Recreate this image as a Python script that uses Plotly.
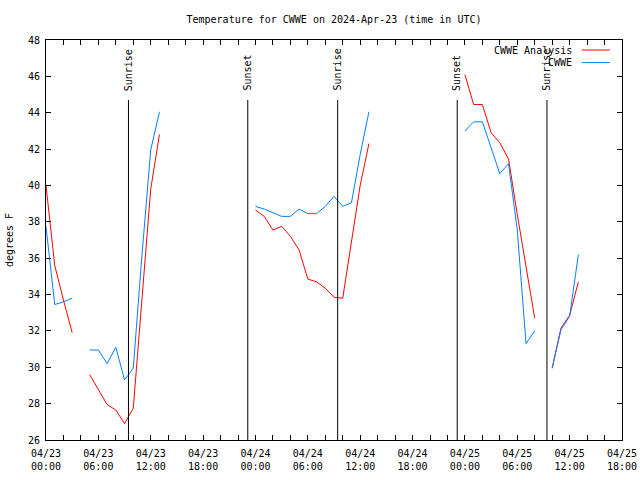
import pandas as pd
import plotly.graph_objects as go

# ---- data ----
base_time = "2024-04-23 00:00"
hours = [0, 1, 2, 3, 4, 5, 6, 7, 8, 9, 10, 11, 12, 13, 14,
         24, 25, 26, 27, 28, 29, 30, 31, 32, 33, 34, 35, 36, 37, 38,
         48, 49, 50, 51, 52, 53, 54, 55, 56, 57,
         58, 59, 60, 61]
analysis_temp = [40.0, 35.6, 33.7, 31.9, None, 29.6, 28.75, 27.95, 27.65, 26.9, 27.75, 33.85, 39.8, 42.8, None,
                 38.65, 38.3, 37.55, 37.75, 37.2, 36.45, 34.85, 34.7, 34.35, 33.85, 33.8, 36.9, 40.0, 42.3, None,
                 46.1, 44.45, 44.45, 42.9, 42.35, 41.45, 38.4, 35.5, 32.7, None,
                 29.95, 32.15, 32.85, 34.7]
obs_temp = [37.75, 33.45, 33.6, 33.8, None, 30.95, 30.95, 30.2, 31.1, 29.3, 29.95, 36.2, 41.95, 44.05, None,
            38.85, 38.7, 38.5, 38.3, 38.3, 38.7, 38.45, 38.45, 38.85, 39.4, 38.85, 39.05, 41.7, 44.05, None,
            43.0, 43.5, 43.5, 42.1, 40.65, 41.2, 37.55, 31.3, 32.0, None,
            29.95, 32.05, 32.8, 36.2]
sun_hours = [9.45, 23.12, 33.42, 47.12, 57.4]
sun_labels = ["Sunrise", "Sunset", "Sunrise", "Sunset", "Sunrise"]
series_names = ["CWWE Analysis", "CWWE"]
series_colors = ["#ff0000", "#0080ff"]
x_range_hours = [0, 66]
tick_hours = list(range(0, 67, 2))
y_range = [26, 48]

t0 = pd.Timestamp(base_time)
def to_time(h):
    return t0 + pd.Timedelta(hours=h)

times = [to_time(h) for h in hours]

FONT = "DejaVu Sans Mono"

fig = go.Figure()
for name, vals, col in zip(series_names, [analysis_temp, obs_temp], series_colors):
    fig.add_trace(go.Scatter(x=times, y=vals, mode="lines", name=name,
                             line=dict(color=col, width=1), connectgaps=False,
                             showlegend=False))

# sunrise / sunset markers
for h, lab in zip(sun_hours, sun_labels):
    t = to_time(h)
    fig.add_shape(type="line", xref="x", yref="paper", x0=t, x1=t, y0=0, y1=0.85,
                  line=dict(color="black", width=1))
    fig.add_annotation(x=t, xref="x", y=0.868, yref="paper", text=lab, textangle=-90,
                       showarrow=False, xanchor="center", yanchor="bottom",
                       font=dict(family=FONT, size=10, color="black"))

# manual legend (text left of line sample, like the reference)
for i, (name, col) in enumerate(zip(series_names, series_colors)):
    yy = 0.975 - i * 0.0315
    fig.add_annotation(x=0.917, xref="paper", y=yy, yref="paper", text=name,
                       showarrow=False, xanchor="right", yanchor="middle",
                       font=dict(family=FONT, size=10, color="black"))
    fig.add_shape(type="line", xref="paper", yref="paper", x0=0.930, x1=0.979,
                  y0=yy, y1=yy, line=dict(color=col, width=1))

tick_text = [(to_time(h).strftime("%m/%d<br>%H:%M") if h % 6 == 0 else "") for h in tick_hours]

fig.update_layout(
    width=640, height=480,
    margin=dict(l=46, r=18, t=40, b=40, autoexpand=False),
    paper_bgcolor="white", plot_bgcolor="white",
    font=dict(family=FONT, size=10, color="black"),
    title=dict(text="Temperature for CWWE on 2024-Apr-23 (time in UTC)", x=0.5, xref="paper",
               y=1 - 19 / 480, yanchor="middle", xanchor="center",
               font=dict(family=FONT, size=10, color="black")),
    showlegend=False,
)
fig.update_xaxes(type="date", range=[to_time(x_range_hours[0]), to_time(x_range_hours[1])],
                 tickmode="array", tickvals=[to_time(h) for h in tick_hours], ticktext=tick_text,
                 ticks="inside", ticklen=5, tickcolor="black", showgrid=False, zeroline=False,
                 showline=True, linecolor="black", linewidth=1, mirror="ticks", automargin=False,
                 ticklabelstandoff=4,
                 tickfont=dict(family=FONT, size=10, color="black"), tickangle=0)
fig.update_yaxes(range=y_range, tickmode="linear", tick0=26, dtick=2,
                 ticks="inside", ticklen=5, tickcolor="black", showgrid=False, zeroline=False,
                 showline=True, linecolor="black", linewidth=1, mirror="ticks", automargin=False,
                 ticklabelstandoff=3,
                 tickfont=dict(family=FONT, size=10, color="black"),
                 title=dict(text="degrees F", standoff=12, font=dict(family=FONT, size=10, color="black")))

fig.write_html("out.html", config={"displayModeBar": False},
               post_script="document.body.style.margin='0';")
